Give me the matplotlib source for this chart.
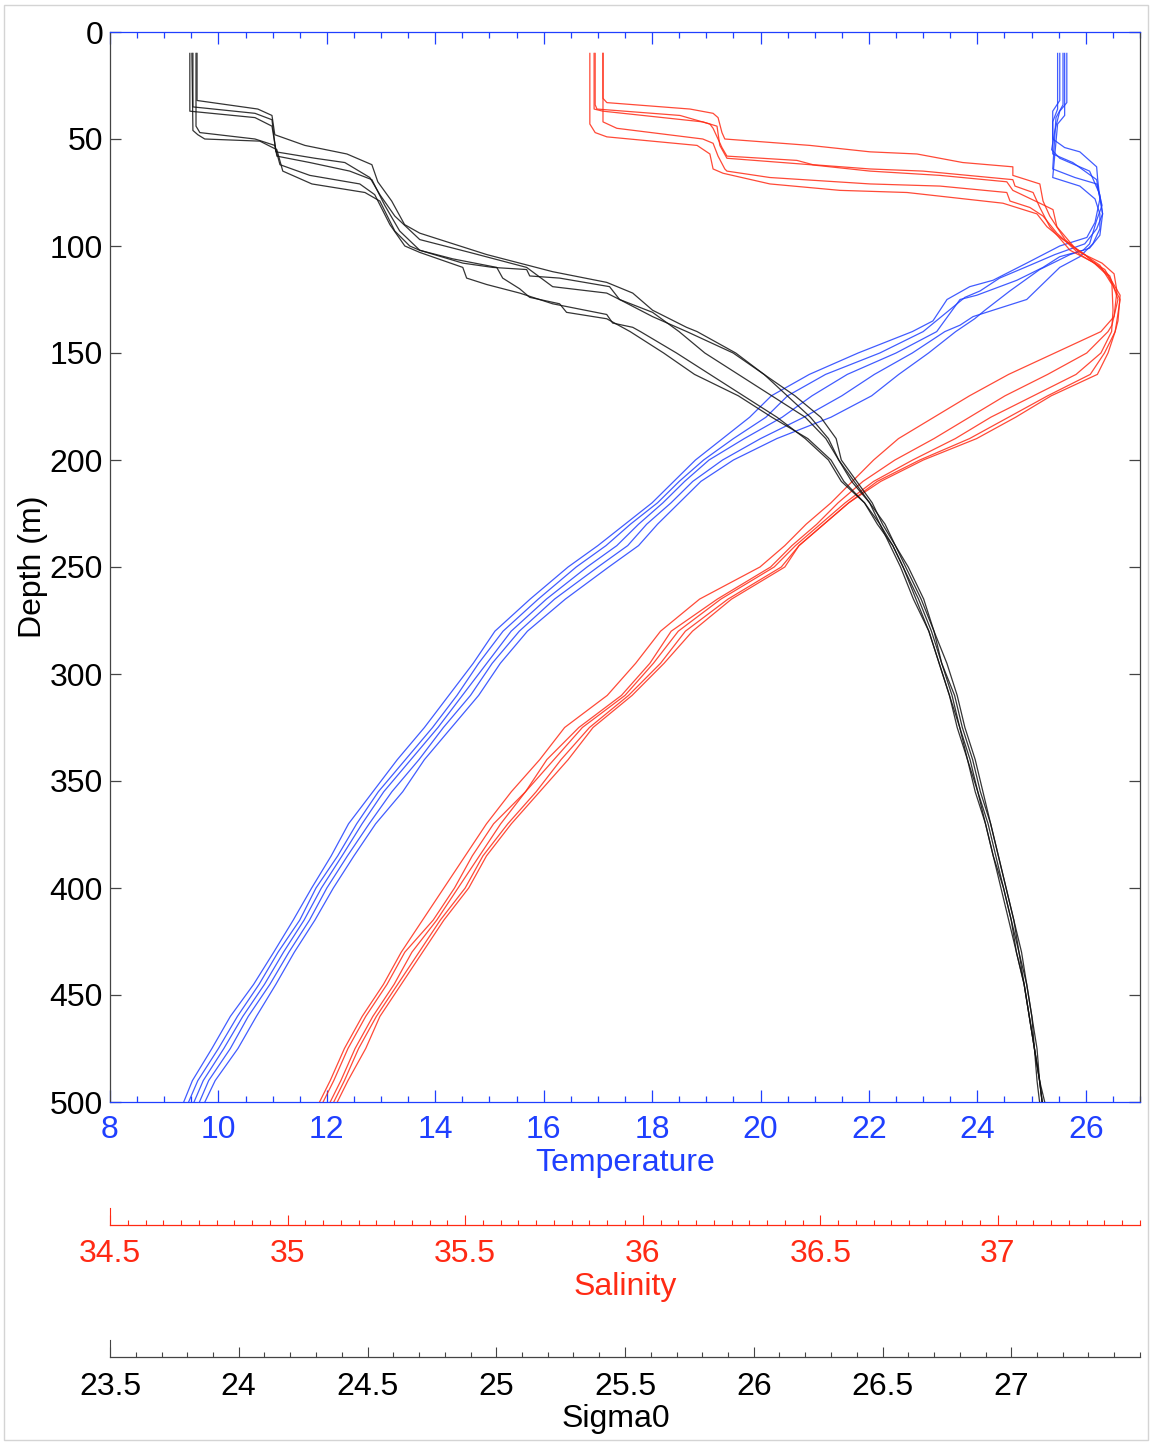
import matplotlib
matplotlib.use('Agg')
import matplotlib.pyplot as plt
from matplotlib.lines import Line2D
from matplotlib.patches import Rectangle
from matplotlib.ticker import MultipleLocator

plt.rcParams['font.family'] = ['Liberation Sans', 'DejaVu Sans']

BLUE = '#1f3fff'
RED = '#ff2a14'
BLACK = '#111111'
GRAY = '#444444'
FS = 23

TEMP_LIM = (8, 27)
SAL_LIM = (34.5, 37.4)
SIG_LIM = (23.5, 27.5)
DEPTH_LIM = (500, 0)

# common depth grid below the mixed layer / staircase region
DEPTH_DEEP = [140, 150, 160, 170, 180, 190, 200, 210, 220, 230, 240, 250, 265, 280,
              295, 310, 325, 340, 355, 370, 385, 400, 415, 430, 445, 460, 475, 490, 500]

# ---------------- Temperature (5 casts) ----------------
T1_D = [10, 32, 37, 50, 54, 56, 63, 69, 78, 89, 96, 100, 108, 116, 119, 125, 135]
T1_V = [25.52, 25.52, 25.39, 25.39, 25.61, 25.89, 26.20, 26.22, 26.26, 26.17, 26.02, 25.52, 24.91, 24.29, 23.86, 23.44, 23.18]
T2_D = [10, 36, 42, 57, 61, 69, 85, 92, 99, 104, 109, 115, 121, 124]
T2_V = [25.48, 25.48, 25.39, 25.39, 25.76, 26.20, 26.31, 26.20, 25.98, 25.43, 24.97, 24.41, 24.05, 23.77]
T3_D = [10, 34, 40, 64, 68, 71, 81, 88, 99, 102, 105, 110, 116, 123, 125]
T3_V = [25.58, 25.58, 25.45, 25.39, 25.80, 26.20, 26.30, 26.20, 26.07, 25.95, 25.52, 25.21, 24.73, 23.99, 23.68]
T4_D = [10, 39, 43, 68, 72, 78, 85, 92, 99, 105, 110, 125, 130, 133, 137]
T4_V = [25.61, 25.61, 25.48, 25.39, 25.89, 26.17, 26.26, 26.26, 26.13, 25.89, 25.52, 24.91, 24.29, 23.92, 23.68]
T5_D = [10, 33, 37, 46, 55, 59, 65, 76, 85, 95, 101, 104, 111, 121, 130, 134]
T5_V = [25.65, 25.65, 25.52, 25.43, 25.37, 25.52, 26.07, 26.26, 26.31, 26.26, 26.07, 25.71, 25.15, 24.60, 24.14, 23.95]

T1_DEEP = [22.80, 21.80, 20.90, 20.20, 19.80, 19.30, 18.80, 18.40, 18.00, 17.50, 17.00, 16.45, 15.75, 15.10,
           14.70, 14.25, 13.80, 13.30, 12.85, 12.40, 12.08, 11.72, 11.38, 11.02, 10.65, 10.22, 9.88, 9.52, 9.36]
T2_DEEP = [23.00, 22.20, 21.20, 20.50, 20.10, 19.50, 18.95, 18.50, 18.10, 17.60, 17.15, 16.60, 15.90, 15.25,
           14.80, 14.40, 13.95, 13.45, 12.95, 12.55, 12.20, 11.80, 11.50, 11.10, 10.75, 10.35, 10.00, 9.62, 9.45]
T3_DEEP = [23.25, 22.50, 21.60, 20.95, 20.40, 19.70, 19.05, 18.60, 18.20, 17.75, 17.35, 16.80, 16.05, 15.40,
           14.95, 14.50, 14.05, 13.55, 13.05, 12.65, 12.28, 11.90, 11.58, 11.20, 10.85, 10.45, 10.10, 9.72, 9.55]
T4_DEEP = [23.40, 22.80, 22.10, 21.50, 20.80, 20.00, 19.30, 18.75, 18.35, 17.90, 17.55, 17.00, 16.20, 15.55,
           15.05, 14.65, 14.15, 13.70, 13.20, 12.78, 12.38, 12.00, 11.68, 11.30, 10.95, 10.55, 10.22, 9.82, 9.65]
T5_DEEP = [23.60, 23.10, 22.55, 22.05, 21.30, 20.30, 19.50, 18.90, 18.50, 18.10, 17.75, 17.20, 16.40, 15.70,
           15.20, 14.80, 14.30, 13.80, 13.40, 12.90, 12.50, 12.12, 11.78, 11.40, 11.06, 10.70, 10.36, 9.94, 9.75]

# ---------------- Salinity (5 casts) ----------------
S1_D = [10, 31, 33, 36, 38, 40, 47, 50, 53, 56, 57, 61, 63, 67, 71, 79, 86, 97, 103, 108, 113, 121, 133]
S1_V = [35.888, 35.888, 35.899, 36.133, 36.198, 36.212, 36.223, 36.231, 36.471, 36.640, 36.772, 36.901, 37.042,
        37.042, 37.118, 37.127, 37.146, 37.189, 37.231, 37.293, 37.327, 37.335, 37.327]
S2_D = [10, 34, 36, 39, 43, 45, 54, 58, 60, 62, 64, 65, 69, 72, 75, 82, 91, 102, 108, 114, 125, 137]
S2_V = [35.866, 35.866, 35.871, 36.105, 36.189, 36.198, 36.223, 36.237, 36.434, 36.479, 36.640, 36.789, 37.042,
        37.048, 37.099, 37.118, 37.146, 37.203, 37.273, 37.315, 37.338, 37.321]
S3_D = [10, 36, 37, 42, 44, 53, 59, 62, 65, 67, 70, 74, 80, 83, 91, 101, 109, 118, 130]
S3_V = [35.863, 35.863, 35.888, 36.169, 36.209, 36.217, 36.237, 36.471, 36.640, 36.837, 37.025, 37.042, 37.118,
        37.155, 37.166, 37.217, 37.287, 37.321, 37.324]
S4_D = [10, 42, 45, 50, 52, 58, 64, 65, 68, 71, 72, 75, 79, 82, 86, 94, 104, 111, 123, 135]
S4_V = [35.888, 35.888, 35.927, 36.169, 36.198, 36.212, 36.231, 36.237, 36.358, 36.640, 36.837, 37.025, 37.034,
        37.090, 37.127, 37.166, 37.231, 37.301, 37.344, 37.338]
S5_D = [10, 43, 47, 49, 53, 57, 64, 66, 71, 74, 75, 80, 85, 91, 96, 104, 114, 125, 138]
S5_V = [35.851, 35.851, 35.866, 35.899, 36.153, 36.189, 36.198, 36.226, 36.358, 36.555, 36.744, 37.014, 37.110,
        37.138, 37.175, 37.245, 37.310, 37.344, 37.332]

S1_DEEP = [37.29, 37.16, 37.03, 36.92, 36.82, 36.72, 36.65, 36.59, 36.53, 36.46, 36.40, 36.33, 36.16, 36.05,
           35.98, 35.90, 35.78, 35.71, 35.63, 35.56, 35.50, 35.44, 35.38, 35.32, 35.27, 35.21, 35.16, 35.12, 35.09]
S2_DEEP = [37.31, 37.25, 37.14, 37.02, 36.92, 36.82, 36.71, 36.62, 36.55, 36.49, 36.42, 36.36, 36.21, 36.08,
           36.02, 35.94, 35.82, 35.73, 35.67, 35.58, 35.52, 35.47, 35.41, 35.33, 35.28, 35.22, 35.17, 35.13, 35.10]
S3_DEEP = [37.32, 37.29, 37.22, 37.10, 36.98, 36.88, 36.76, 36.65, 36.57, 36.50, 36.43, 36.37, 36.22, 36.10,
           36.03, 35.95, 35.83, 35.75, 35.67, 35.60, 35.54, 35.48, 35.42, 35.35, 35.30, 35.24, 35.19, 35.15, 35.12]
S4_DEEP = [37.33, 37.30, 37.26, 37.14, 37.03, 36.92, 36.78, 36.66, 36.58, 36.51, 36.44, 36.39, 36.24, 36.12,
           36.05, 35.96, 35.85, 35.77, 35.70, 35.62, 35.55, 35.50, 35.43, 35.37, 35.31, 35.25, 35.20, 35.16, 35.13]
S5_DEEP = [37.33, 37.31, 37.28, 37.15, 37.05, 36.94, 36.79, 36.67, 36.58, 36.51, 36.44, 36.40, 36.25, 36.14,
           36.06, 35.97, 35.86, 35.79, 35.71, 35.63, 35.56, 35.51, 35.44, 35.38, 35.32, 35.26, 35.22, 35.17, 35.14]

# ---------------- Sigma0 (5 casts) ----------------
G1_D = [10, 32, 36, 39, 48, 53, 57, 62, 70, 79, 90, 94, 104, 112, 117, 122, 130, 138]
G1_V = [23.838, 23.838, 24.074, 24.129, 24.140, 24.257, 24.420, 24.517, 24.540, 24.594, 24.644, 24.703, 24.963,
        25.219, 25.429, 25.530, 25.607, 25.739]
G2_D = [10, 35, 38, 41, 56, 59, 61, 68, 76, 86, 97, 103, 110, 119, 122, 125, 133]
G2_V = [23.822, 23.822, 24.063, 24.129, 24.144, 24.296, 24.412, 24.509, 24.548, 24.606, 24.703, 24.897, 25.118,
        25.219, 25.429, 25.479, 25.607]
G3_D = [10, 37, 40, 44, 58, 61, 65, 69, 81, 93, 102, 108, 110, 111, 114, 115, 119, 125, 131]
G3_V = [23.810, 23.810, 24.063, 24.129, 24.148, 24.276, 24.431, 24.517, 24.567, 24.625, 24.703, 24.870, 24.986,
        25.118, 25.130, 25.246, 25.440, 25.479, 25.607]
G4_D = [10, 44, 47, 50, 53, 62, 67, 71, 76, 90, 100, 103, 110, 115, 118, 122, 127, 132, 136, 138]
G4_V = [23.834, 23.834, 23.849, 24.063, 24.140, 24.160, 24.276, 24.470, 24.528, 24.587, 24.645, 24.703, 24.870,
        24.885, 24.963, 25.091, 25.219, 25.429, 25.452, 25.530]
G5_D = [10, 46, 48, 50, 51, 55, 65, 71, 75, 79, 93, 100, 102, 106, 110, 115, 120, 124, 127, 131, 134]
G5_V = [23.818, 23.822, 23.841, 23.868, 24.082, 24.148, 24.171, 24.284, 24.490, 24.548, 24.606, 24.664, 24.703,
        24.831, 25.002, 25.025, 25.091, 25.130, 25.246, 25.273, 25.429]

G1_DEEP = [25.78, 25.93, 26.04, 26.16, 26.26, 26.32, 26.34, 26.40, 26.46, 26.50, 26.55, 26.59, 26.65, 26.70,
           26.73, 26.78, 26.81, 26.85, 26.88, 26.92, 26.95, 26.98, 27.01, 27.04, 27.06, 27.08, 27.10, 27.11, 27.12]
G2_DEEP = [25.74, 25.92, 26.04, 26.13, 26.22, 26.29, 26.33, 26.39, 26.45, 26.51, 26.55, 26.60, 26.66, 26.70,
           26.75, 26.79, 26.82, 26.86, 26.89, 26.92, 26.95, 26.98, 27.01, 27.03, 27.06, 27.08, 27.09, 27.11, 27.12]
G3_DEEP = [25.71, 25.81, 25.94, 26.07, 26.20, 26.28, 26.33, 26.38, 26.45, 26.49, 26.54, 26.58, 26.64, 26.69,
           26.73, 26.77, 26.80, 26.84, 26.87, 26.91, 26.94, 26.97, 27.00, 27.03, 27.05, 27.07, 27.09, 27.10, 27.11]
G4_DEEP = [25.56, 25.70, 25.83, 25.96, 26.09, 26.20, 26.29, 26.34, 26.43, 26.48, 26.54, 26.58, 26.63, 26.68,
           26.72, 26.76, 26.80, 26.83, 26.87, 26.90, 26.93, 26.97, 27.00, 27.02, 27.05, 27.07, 27.09, 27.11, 27.12]
G5_DEEP = [25.52, 25.65, 25.77, 25.94, 26.07, 26.21, 26.30, 26.35, 26.43, 26.49, 26.53, 26.57, 26.62, 26.68,
           26.72, 26.76, 26.79, 26.83, 26.86, 26.90, 26.93, 26.96, 26.99, 27.02, 27.05, 27.07, 27.09, 27.11, 27.13]

TEMP_CASTS = [(T1_D, T1_V, T1_DEEP), (T2_D, T2_V, T2_DEEP), (T3_D, T3_V, T3_DEEP),
              (T4_D, T4_V, T4_DEEP), (T5_D, T5_V, T5_DEEP)]
SAL_CASTS = [(S1_D, S1_V, S1_DEEP), (S2_D, S2_V, S2_DEEP), (S3_D, S3_V, S3_DEEP),
             (S4_D, S4_V, S4_DEEP), (S5_D, S5_V, S5_DEEP)]
SIG_CASTS = [(G1_D, G1_V, G1_DEEP), (G2_D, G2_V, G2_DEEP), (G3_D, G3_V, G3_DEEP),
             (G4_D, G4_V, G4_DEEP), (G5_D, G5_V, G5_DEEP)]

TEMP_TICKS = [8, 10, 12, 14, 16, 18, 20, 22, 24, 26]
SAL_TICKS = [34.5, 35, 35.5, 36, 36.5, 37]
SAL_LABELS = ['34.5', '35', '35.5', '36', '36.5', '37']
SIG_TICKS = [23.5, 24, 24.5, 25, 25.5, 26, 26.5, 27]
SIG_LABELS = ['23.5', '24', '24.5', '25', '25.5', '26', '26.5', '27']
DEPTH_TICKS = [0, 50, 100, 150, 200, 250, 300, 350, 400, 450, 500]


def full_profile(d_up, v_up, v_deep):
    return list(d_up) + DEPTH_DEEP, list(v_up) + list(v_deep)


W, H = 1151, 1442
fig = plt.figure(figsize=(W / 100, H / 100), dpi=100)
fig.add_artist(Rectangle((4 / W, 1 - 1440 / H), 1144 / W, 1435 / H, transform=fig.transFigure,
                         fill=False, edgecolor='#d4d4d4', linewidth=1.0))

ax = fig.add_axes([110 / W, 1 - 1102 / H, 1030 / W, 1070 / H])
ax.set_xlim(*TEMP_LIM)
ax.set_ylim(*DEPTH_LIM)

axs = ax.twiny()
axs.set_xlim(*SAL_LIM)
axg = ax.twiny()
axg.set_xlim(*SIG_LIM)

LW = 0.9
for d_up, v_up, v_deep in TEMP_CASTS:
    d, v = full_profile(d_up, v_up, v_deep)
    ax.plot(v, d, color=BLUE, lw=LW, alpha=0.85)
for d_up, v_up, v_deep in SAL_CASTS:
    d, v = full_profile(d_up, v_up, v_deep)
    axs.plot(v, d, color=RED, lw=LW, alpha=0.85)
for d_up, v_up, v_deep in SIG_CASTS:
    d, v = full_profile(d_up, v_up, v_deep)
    axg.plot(v, d, color=BLACK, lw=LW, alpha=0.85)

# main axes styling
for side in ['left', 'right']:
    ax.spines[side].set_color(GRAY)
    ax.spines[side].set_linewidth(0.9)
for side in ['top', 'bottom']:
    ax.spines[side].set_color(BLUE)
    ax.spines[side].set_linewidth(0.9)

ax.set_yticks(DEPTH_TICKS)
ax.tick_params(axis='y', which='major', direction='in', left=True, right=True, length=8,
               width=0.9, color=GRAY, labelsize=FS, pad=5, labelcolor='black')
ax.set_ylabel('Depth (m)', fontsize=FS, labelpad=1)

ax.set_xticks(TEMP_TICKS)
ax.set_xticklabels([str(t) for t in TEMP_TICKS])
ax.xaxis.set_minor_locator(MultipleLocator(0.5))
ax.tick_params(axis='x', which='both', direction='in', top=True, bottom=True, labeltop=False,
               color=BLUE, width=0.9, labelcolor=BLUE, labelsize=FS, pad=9.5)
ax.tick_params(axis='x', which='major', length=8.5)
ax.tick_params(axis='x', which='minor', length=4.3)
ax.set_xlabel('Temperature', fontsize=FS, color=BLUE, labelpad=2)

# salinity axis
SAL_OFF = 123 * 0.72
for side in ['top', 'left', 'right']:
    axs.spines[side].set_visible(False)
axs.spines['bottom'].set_visible(True)
axs.spines['bottom'].set_position(('outward', SAL_OFF))
axs.spines['bottom'].set_color(RED)
axs.spines['bottom'].set_linewidth(0.9)
axs.xaxis.set_ticks_position('bottom')
axs.xaxis.set_label_position('bottom')
axs.set_xticks(SAL_TICKS)
axs.set_xticklabels(SAL_LABELS)
axs.xaxis.set_minor_locator(MultipleLocator(0.05))
axs.tick_params(axis='x', which='both', direction='in', color=RED, width=0.8,
                labelcolor=RED, labelsize=FS, pad=10)
axs.tick_params(axis='x', which='major', length=7.2)
axs.tick_params(axis='x', which='minor', length=3.6)
axs.set_xlabel('Salinity', fontsize=FS, color=RED, labelpad=2)
axs.tick_params(axis='y', left=False, right=False, labelleft=False, labelright=False)

# sigma axis
SIG_OFF = 255 * 0.72
for side in ['top', 'left', 'right']:
    axg.spines[side].set_visible(False)
axg.spines['bottom'].set_visible(True)
axg.spines['bottom'].set_position(('outward', SIG_OFF))
axg.spines['bottom'].set_color(GRAY)
axg.spines['bottom'].set_linewidth(0.9)
axg.xaxis.set_ticks_position('bottom')
axg.xaxis.set_label_position('bottom')
axg.set_xticks(SIG_TICKS)
axg.set_xticklabels(SIG_LABELS)
axg.xaxis.set_minor_locator(MultipleLocator(0.1))
axg.tick_params(axis='x', which='both', direction='in', color=GRAY, width=0.8,
                labelcolor='black', labelsize=FS, pad=10.5)
axg.tick_params(axis='x', which='major', length=7.2)
axg.tick_params(axis='x', which='minor', length=3.6)
axg.set_xlabel('Sigma0', fontsize=FS, color='black', labelpad=2)
axg.xaxis.label.set_x(0.491)
axg.tick_params(axis='y', left=False, right=False, labelleft=False, labelright=False)

# taller end ticks at the left of the lower axes
fig.add_artist(Line2D([110 / W, 110 / W], [1 - 1225 / H, 1 - 1208 / H], color=RED, lw=0.8))
fig.add_artist(Line2D([110 / W, 110 / W], [1 - 1357 / H, 1 - 1340 / H], color=GRAY, lw=0.8))

fig.savefig('out.png', dpi=100)
